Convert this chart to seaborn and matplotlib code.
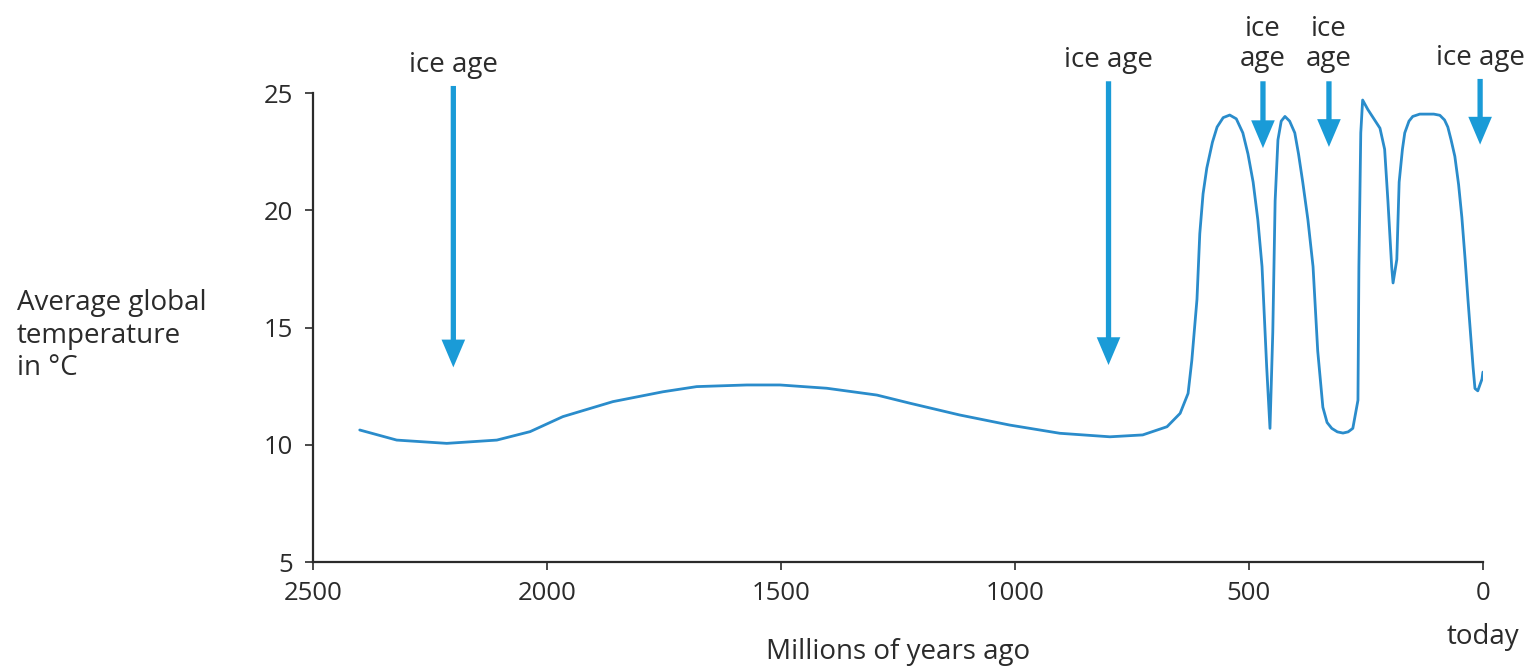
"""Average global temperature over the last 2500 million years, with ice ages."""
import matplotlib
matplotlib.use("Agg")
import matplotlib.pyplot as plt
import seaborn as sns

# curve, in drawing order (millions of years ago, °C)
MYA = [2400, 2321, 2214, 2107, 2036, 1966, 1859, 1752, 1680, 1573, 1502, 1402, 1295, 1224,
       1118, 1011, 904, 797, 727, 675, 647, 630, 622, 611, 605, 598, 590, 578, 568, 555, 541,
       527, 513, 502, 491, 481, 472, 462, 455, 449, 444, 438, 431, 423, 413, 402, 394, 385,
       374, 363, 353, 342, 333, 323, 311, 299, 288, 278, 267, 265, 261, 257, 246, 220, 210,
       203, 195, 192, 184, 179, 172, 167, 158, 150, 135, 120, 105, 92, 82, 75, 68, 60, 52,
       45, 38, 32, 21, 17, 11, 2, 0]
TEMP = [10.63, 10.2, 10.06, 10.2, 10.56, 11.2, 11.84, 12.26, 12.48, 12.55, 12.55, 12.41, 12.12, 11.77,
        11.27, 10.84, 10.49, 10.34, 10.42, 10.77, 11.34, 12.19, 13.6, 16.2, 19.0, 20.7, 21.8, 22.9, 23.55, 23.95, 24.06,
        23.9, 23.3, 22.4, 21.2, 19.6, 17.6, 13.3, 10.7, 14.8, 20.4, 23.0, 23.8, 24.0, 23.8, 23.3, 22.4, 21.2,
        19.6, 17.6, 14.0, 11.6, 10.95, 10.7, 10.55, 10.5, 10.55, 10.7, 11.9, 17.6,
        23.3, 24.7, 24.3, 23.5, 22.6, 20.4, 17.6, 16.9, 17.9, 21.2, 22.6, 23.3, 23.8, 24.0, 24.1, 24.1, 24.1, 24.05, 23.85,
        23.55, 23.0, 22.3, 21.1, 19.7, 17.9, 16.2, 13.3, 12.4, 12.3, 12.8, 13.1]

# ice-age arrows: x position, tail, tip, label, label height
ICE_X = [2200, 800, 470, 329, 6]
ICE_TAIL = [25.3, 25.5, 25.5, 25.5, 25.6]
ICE_TIP = [13.3, 13.4, 22.65, 22.7, 22.8]
ICE_LABEL = ["ice age", "ice age", "ice\nage", "ice\nage", "ice age"]
ICE_LABEL_Y = [26.2, 26.4, 27.1, 27.1, 26.5]

X_TICKS = [2500, 2000, 1500, 1000, 500, 0]
Y_TICKS = [5, 10, 15, 20, 25]

LINE = "#2a8ccb"
ARROW = "#1a9bd7"
INK = "#2b2b2b"
FS_TEXT, FS_TICK = 20, 18.5

sns.set_theme(style="ticks")
plt.rcParams["font.family"] = ["Open Sans", "DejaVu Sans"]

fig = plt.figure(figsize=(15.34, 6.71), dpi=100)
ax = fig.add_axes([0.204, 0.1624, 0.7627, 0.699])

sns.lineplot(x=MYA, y=TEMP, sort=False, estimator=None, color=LINE, lw=2.0, ax=ax)

for x, tail, tip, label, ly in zip(ICE_X, ICE_TAIL, ICE_TIP, ICE_LABEL, ICE_LABEL_Y):
    ax.annotate("", xy=(x, tip), xytext=(x, tail), annotation_clip=False,
                arrowprops=dict(arrowstyle="simple,head_length=1.0,head_width=0.85,tail_width=0.19",
                                mutation_scale=20, lw=0, color=ARROW, shrinkA=0, shrinkB=0))
    ax.text(x, ly, label, ha="center", va="center", fontsize=FS_TEXT, color=INK,
            linespacing=1.1, clip_on=False)

ax.set_xlim(2500, 0)
ax.set_ylim(5, 25)
ax.set_xticks(X_TICKS)
ax.set_yticks(Y_TICKS)
ax.tick_params(axis="both", labelsize=FS_TICK, colors=INK, length=6, width=1.2, pad=8)
for side in ["top", "right"]:
    ax.spines[side].set_visible(False)
for side in ["left", "bottom"]:
    ax.spines[side].set_color(INK)
    ax.spines[side].set_linewidth(1.6)

ax.set_xlabel("")
ax.set_ylabel("")
fig.text(0.5854, 0.028, "Millions of years ago", ha="center", va="center", fontsize=FS_TEXT, color=INK)
ax.text(0, -0.16, "today", transform=ax.get_xaxis_transform(), ha="center", va="center",
        fontsize=FS_TEXT, color=INK, clip_on=False)
fig.text(0.011, 0.50, "Average global\ntemperature\nin °C", ha="left", va="center",
         fontsize=FS_TEXT, color=INK, linespacing=1.2)

fig.savefig("out.png", dpi=100)
